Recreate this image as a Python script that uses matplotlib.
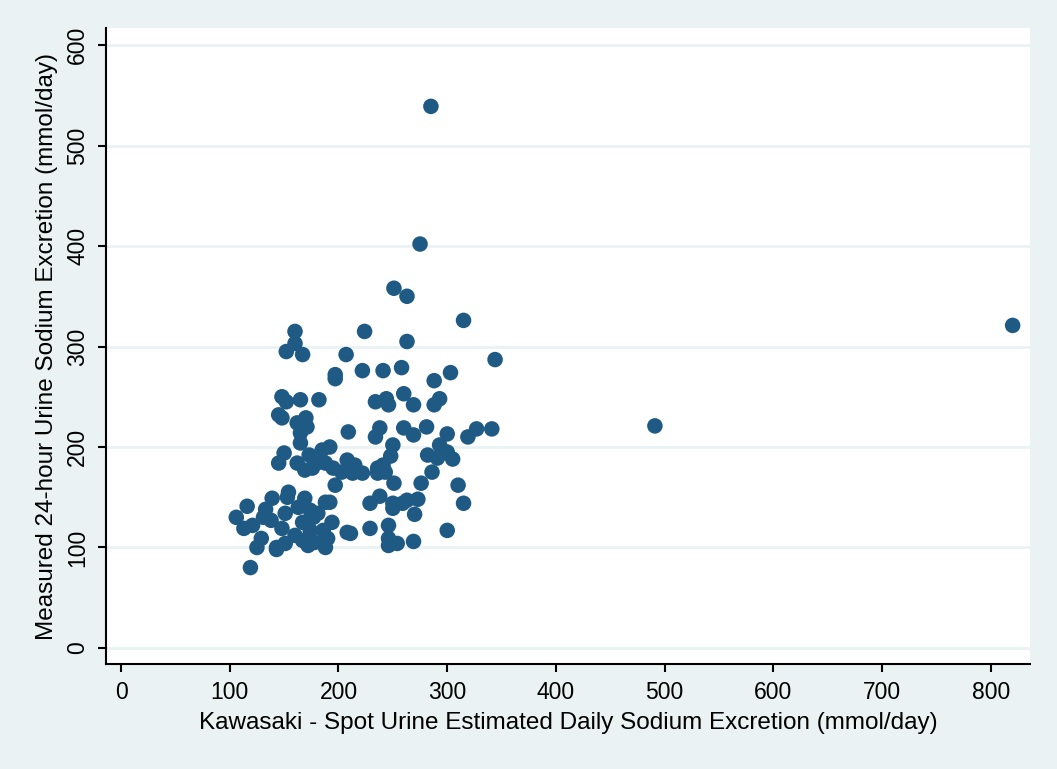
"""
Scatter: Kawasaki spot urine estimate vs. measured 24-hour urine sodium.
"""

import matplotlib
matplotlib.use("Agg")
import matplotlib.pyplot as plt

# -----------------------------------------------------------------------
# Data
# -----------------------------------------------------------------------
kawasaki = [
    285, 275, 251, 263, 491, 820,
    315, 160, 224, 160, 152, 167, 207, 263, 344,
    197, 197, 222, 241, 258, 303, 288,
    148, 152, 165, 182, 145, 148, 234, 244, 246, 260, 269, 293, 288,
    162, 170, 171, 165, 165, 209, 238, 234, 260, 269, 281, 300, 319, 327, 341,
    150, 145, 162, 169, 173, 176, 185, 192, 188, 195, 180,
    208, 215, 213, 222, 203,
    250, 248, 241, 236, 236, 243,
    197, 251, 276, 286, 282, 291, 293, 300, 305, 310, 315, 300,
    139, 151, 148, 154, 153, 163, 169, 174, 181, 188, 192,
    167, 177, 174, 186, 194, 190, 188, 178, 160, 167, 172, 143, 151,
    208, 211, 229, 246, 246, 254, 246, 269,
    229, 238, 250, 250, 259, 263, 273, 270,
    116, 106, 133, 131, 138, 113, 121, 129, 125, 143, 119,
]
measured = [
    539, 402, 358, 350, 221, 321,
    326, 315, 315, 303, 295, 292, 292, 305, 287,
    272, 268, 276, 276, 279, 274, 266,
    250, 245, 247, 247, 232, 229, 245, 248, 242, 253, 242, 248, 242,
    224, 229, 220, 214, 204, 215, 219, 210, 219, 212, 220, 213, 210, 218, 218,
    194, 184, 184, 177, 192, 179, 197, 200, 184, 179, 184,
    187, 182, 174, 174, 175,
    202, 191, 182, 179, 174, 175,
    162, 164, 164, 175, 192, 189, 202, 195, 188, 162, 144, 117,
    149, 134, 119, 155, 150, 140, 149, 137, 134, 145, 145,
    125, 130, 117, 117, 125, 109, 100, 105, 112, 107, 102, 100, 104,
    115, 114, 119, 122, 109, 104, 102, 106,
    144, 151, 144, 139, 144, 147, 148, 133,
    141, 130, 138, 130, 127, 119, 122, 109, 100, 98, 80,
]

x_ticks = [0, 100, 200, 300, 400, 500, 600, 700, 800]
y_ticks = [0, 100, 200, 300, 400, 500, 600]

x_label = "Kawasaki - Spot Urine Estimated Daily Sodium Excretion (mmol/day)"
y_label = "Measured 24-hour Urine Sodium Excretion (mmol/day)"

# -----------------------------------------------------------------------
# Figure
# -----------------------------------------------------------------------
bg = "#eaf2f3"
navy = "#1f5a84"

plt.rcParams["font.family"] = ["Liberation Sans", "DejaVu Sans"]

fig = plt.figure(figsize=(10.57, 7.69), dpi=100)
fig.patch.set_facecolor(bg)
ax = fig.add_axes([0.1003, 0.1365, 0.8742, 0.8271])
ax.set_facecolor("white")

ax.scatter(kawasaki, measured, s=125, color=navy, edgecolors="none",
           zorder=3)

ax.set_xlim(-13.8, 836)
ax.set_ylim(-16, 617)
ax.set_xticks(x_ticks)
ax.set_yticks(y_ticks)
ax.set_yticklabels([str(v) for v in y_ticks], rotation=90, va="center")

# horizontal grid only
ax.grid(axis="y", color=bg, lw=2.0, zorder=1)
ax.set_axisbelow(True)

for side in ["top", "right"]:
    ax.spines[side].set_visible(False)
for side in ["left", "bottom"]:
    ax.spines[side].set_color("black")
    ax.spines[side].set_linewidth(1.5)

ax.tick_params(axis="both", direction="out", length=6, width=1.5,
               color="black", labelsize=16.5, pad=6)

ax.set_xlabel(x_label, fontsize=17.5, labelpad=6)
ax.set_ylabel(y_label, fontsize=17.5, labelpad=6)

fig.savefig("out.png", dpi=100, facecolor=bg)
